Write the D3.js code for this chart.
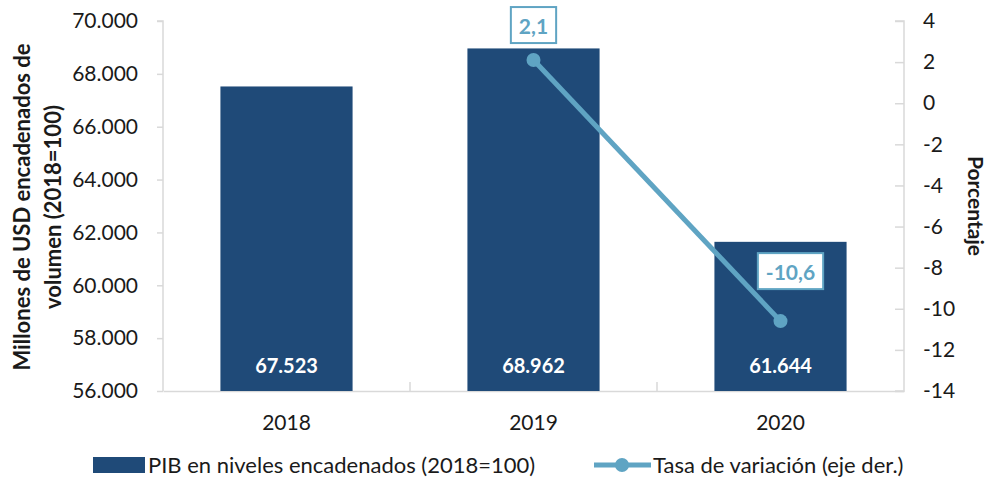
<!DOCTYPE html>
<html><head><meta charset="utf-8">
<script src="https://cdn.jsdelivr.net/npm/d3@7"></script>
<style>body{margin:0;background:#fff}svg{display:block}text{font-family:Lato,"Open Sans",sans-serif}</style>
</head><body>
<svg id="c" width="989" height="479"></svg>
<script>
const categories = ["2018","2019","2020"];
const pibValues = [67523, 68962, 61644];
const pibLabels = ["67.523","68.962","61.644"];
const tasaValues = [null, 2.1, -10.6];
const tasaLabels = [null, "2,1", "-10,6"];
const leftTicks = [56000,58000,60000,62000,64000,66000,68000,70000];
const rightTicks = [-14,-12,-10,-8,-6,-4,-2,0,2,4];
const seriesNames = ["PIB en niveles encadenados (2018=100)", "Tasa de variación (eje der.)"];

const barColor = "#1F4A78", lineColor = "#5FA4C3", axisColor = "#D9D9D9", textColor = "#1a1a1a";
const svg = d3.select("#c");
const L = 163, R = 904, T = 21, B = 391;

const x = d3.scaleBand().domain(categories).range([L, R]).paddingInner(0.465).paddingOuter(0.2325);
const yL = d3.scaleLinear().domain([56000, 70000]).range([B, T]);
const yR = d3.scaleLinear().domain([-14, 4]).range([B, T]);
const fmtL = d3.format(",.0f");
const esFmt = v => fmtL(v).replace(/,/g, ".");

// left axis
const gL = svg.append("g").attr("transform", `translate(${L},0)`)
  .call(d3.axisLeft(yL).tickValues(leftTicks).tickFormat(esFmt).tickSize(6).tickPadding(19));
gL.select(".domain").attr("stroke", axisColor).attr("stroke-width", 1.5).attr("d", `M-6,${T}H0V${B}`);
gL.selectAll(".tick line").attr("stroke", axisColor).attr("stroke-width", 1.5);
gL.selectAll(".tick text").attr("fill", textColor).style("font-size", "21px");

// right axis
const gR = svg.append("g").attr("transform", `translate(${R},0)`)
  .call(d3.axisRight(yR).tickValues(rightTicks).tickFormat(d => String(d)).tickSize(0).tickPadding(19));
gR.select(".domain").attr("stroke", axisColor).attr("stroke-width", 1.5).attr("d", `M-9,${T}H0V${B}H-9`);
gR.selectAll(".tick").append("line").attr("x1", -9).attr("x2", 0).attr("stroke", axisColor).attr("stroke-width", 1.5);
gR.selectAll(".tick text").attr("fill", textColor).style("font-size", "21px");

// bottom axis
const gB = svg.append("g").attr("transform", `translate(0,${B})`)
  .call(d3.axisBottom(x).tickSize(0).tickPadding(24));
gB.select(".domain").attr("stroke", axisColor).attr("stroke-width", 1.5);
gB.selectAll(".tick text").attr("fill", textColor).style("font-size", "21px");
// category separators
const bounds = categories.slice(1).map((c) => x(c) - x.step() * x.paddingInner() / 2);
svg.append("g").selectAll("line").data(bounds).join("line")
  .attr("x1", d => d).attr("x2", d => d).attr("y1", B - 9).attr("y2", B)
  .attr("stroke", axisColor).attr("stroke-width", 1.5);

// bars
svg.append("g").selectAll("rect").data(categories).join("rect")
  .attr("x", d => x(d)).attr("width", x.bandwidth())
  .attr("y", (d, i) => yL(pibValues[i])).attr("height", (d, i) => B - yL(pibValues[i]))
  .attr("fill", barColor);
svg.append("g").selectAll("text").data(categories).join("text")
  .attr("x", d => x(d) + x.bandwidth() / 2).attr("y", 373)
  .attr("text-anchor", "middle").attr("fill", "#fff").style("font-size", "20px").style("font-weight", "bold")
  .text((d, i) => pibLabels[i]);

// line
const pts = categories.map((c, i) => ({c, v: tasaValues[i], l: tasaLabels[i]})).filter(p => p.v !== null);
const line = d3.line().x(p => x(p.c) + x.bandwidth() / 2).y(p => yR(p.v));
svg.append("path").datum(pts).attr("d", line).attr("fill", "none").attr("stroke", lineColor).attr("stroke-width", 5);
svg.append("g").selectAll("circle").data(pts).join("circle")
  .attr("cx", p => x(p.c) + x.bandwidth() / 2).attr("cy", p => yR(p.v)).attr("r", 7).attr("fill", lineColor);

// data labels with boxes
const labelOffsets = [{dx: 0, dy: -35}, {dx: 10, dy: -50}];
pts.forEach((p, i) => {
  const cx = x(p.c) + x.bandwidth() / 2 + labelOffsets[i].dx;
  const cy = yR(p.v) + labelOffsets[i].dy;
  const g = svg.append("g");
  const t = g.append("text").attr("x", cx).attr("y", cy).attr("text-anchor", "middle").attr("dominant-baseline", "central")
    .attr("fill", lineColor).style("font-size", "21px").style("font-weight", "bold").text(p.l);
  const bb = t.node().getBBox();
  g.insert("rect", "text").attr("x", bb.x - 8).attr("y", cy - 18).attr("width", bb.width + 16).attr("height", 36)
    .attr("fill", "#fff").attr("stroke", lineColor).attr("stroke-width", 2);
});

// axis titles
svg.append("text").attr("transform", `translate(30,207) rotate(-90)`).attr("text-anchor", "middle")
  .attr("fill", textColor).style("font-size", "22px").style("font-weight", "bold").text("Millones de USD encadenados de");
svg.append("text").attr("transform", `translate(61,207) rotate(-90)`).attr("text-anchor", "middle")
  .attr("fill", textColor).style("font-size", "22px").style("font-weight", "bold").text("volumen (2018=100)");
svg.append("text").attr("transform", `translate(968,206) rotate(90)`).attr("text-anchor", "middle")
  .attr("fill", textColor).style("font-size", "21px").style("font-weight", "bold").text("Porcentaje");

// legend
const lg = svg.append("g");
lg.append("rect").attr("x", 93).attr("y", 457).attr("width", 52).attr("height", 16).attr("fill", barColor);
lg.append("text").attr("x", 148).attr("y", 473).attr("fill", textColor).style("font-size", "22px").text(seriesNames[0]);
lg.append("line").attr("x1", 594).attr("x2", 651).attr("y1", 465).attr("y2", 465).attr("stroke", lineColor).attr("stroke-width", 5);
lg.append("circle").attr("cx", 622).attr("cy", 465).attr("r", 7).attr("fill", lineColor);
lg.append("text").attr("x", 653).attr("y", 473).attr("fill", textColor).style("font-size", "22px").text(seriesNames[1]);
</script>
</body></html>
